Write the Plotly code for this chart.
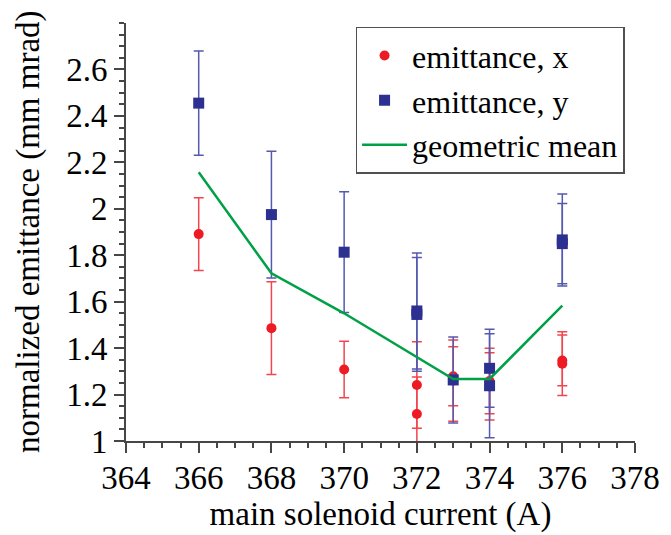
import plotly.graph_objects as go

# emittance, x (red circles)
ex_current = [366, 368, 370, 372, 372, 373, 373, 374, 374, 376, 376]
ex_value = [1.891, 1.486, 1.308, 1.241, 1.116, 1.279, 1.260, 1.258, 1.235, 1.333, 1.347]
ex_error = [0.157, 0.200, 0.122, 0.186, 0.160, 0.127, 0.175, 0.141, 0.145, 0.137, 0.109]

# emittance, y (blue squares)
ey_current = [366, 368, 370, 372, 372, 373, 374, 374, 376, 376]
ey_value = [2.455, 1.975, 1.813, 1.560, 1.545, 1.263, 1.313, 1.238, 1.866, 1.850]
ey_error = [0.224, 0.273, 0.260, 0.250, 0.245, 0.185, 0.168, 0.224, 0.198, 0.173]

# geometric mean (green line)
gm_current = [366, 368, 370, 372, 373, 374, 376]
gm_value = [2.157, 1.722, 1.550, 1.363, 1.267, 1.267, 1.583]

x_ticks = [364, 366, 368, 370, 372, 374, 376, 378]
y_ticks = [1, 1.2, 1.4, 1.6, 1.8, 2, 2.2, 2.4, 2.6]

FONT = "Liberation Serif, Times New Roman, serif"
RED = "rgb(237,28,36)"
RED_ERR = "rgb(240,70,80)"
BLUE = "rgb(43,48,145)"
BLUE_ERR = "rgb(85,90,175)"
GREEN = "rgb(0,160,70)"
AXIS = "rgb(70,70,70)"

fig = go.Figure()

fig.add_trace(go.Scatter(
    x=ex_current, y=ex_value, mode="markers", name="emittance, x",
    marker=dict(symbol="circle", size=10, color=RED),
    error_y=dict(type="data", array=ex_error, visible=True, color=RED_ERR,
                 thickness=1.5, width=5),
    cliponaxis=False,
))
fig.add_trace(go.Scatter(
    x=ey_current, y=ey_value, mode="markers", name="emittance, y",
    marker=dict(symbol="square", size=11, color=BLUE),
    error_y=dict(type="data", array=ey_error, visible=True, color=BLUE_ERR,
                 thickness=1.5, width=5),
    cliponaxis=False,
))
fig.add_trace(go.Scatter(
    x=gm_current, y=gm_value, mode="lines", name="geometric mean",
    line=dict(color=GREEN, width=2.5),
))

# the page body adds an 8px margin, so the figure is sized/offset to compensate
fig.update_layout(
    width=663, height=527,
    margin=dict(l=118, r=36, t=15, b=94),
    paper_bgcolor="white", plot_bgcolor="white",
    font=dict(family=FONT, size=33, color="black"),
    showlegend=True,
    legend=dict(
        x=0.451, y=0.991, xanchor="left", yanchor="top",
        bordercolor="rgb(80,80,80)", borderwidth=1.5, bgcolor="white",
        font=dict(family=FONT, size=32, color="black"),
        tracegroupgap=0, itemwidth=45,
    ),
    xaxis=dict(
        range=[364, 378], tickvals=x_ticks, ticktext=[str(v) for v in x_ticks],
        automargin=False,
        showgrid=False, zeroline=False, showline=True, linecolor=AXIS, linewidth=2,
        ticks="outside", ticklen=10, tickwidth=2, tickcolor=AXIS,
        ticklabelstandoff=-4,
        minor=dict(dtick=0.5, ticks="outside", ticklen=5, tickwidth=1.5, tickcolor=AXIS, showgrid=False),
        title=dict(text="main solenoid current (A)", font=dict(size=33), standoff=6),
        tickfont=dict(size=33),
    ),
    yaxis=dict(
        range=[1, 2.8], tickvals=y_ticks, ticktext=[f"{v:g}" for v in y_ticks],
        automargin=False,
        showgrid=False, zeroline=False, showline=True, linecolor=AXIS, linewidth=2,
        ticks="outside", ticklen=10, tickwidth=2, tickcolor=AXIS,
        minor=dict(dtick=0.05, ticks="outside", ticklen=5, tickwidth=1.5, tickcolor=AXIS, showgrid=False),
        tickfont=dict(size=33),
    ),
    annotations=[dict(
        text="normalized emittance (mm mrad)", textangle=-90,
        xref="paper", yref="paper", x=-0.1925, y=0.5,
        xanchor="center", yanchor="middle", showarrow=False,
        font=dict(family=FONT, size=33, color="black"),
    )],
)

fig.write_html("out.html")
